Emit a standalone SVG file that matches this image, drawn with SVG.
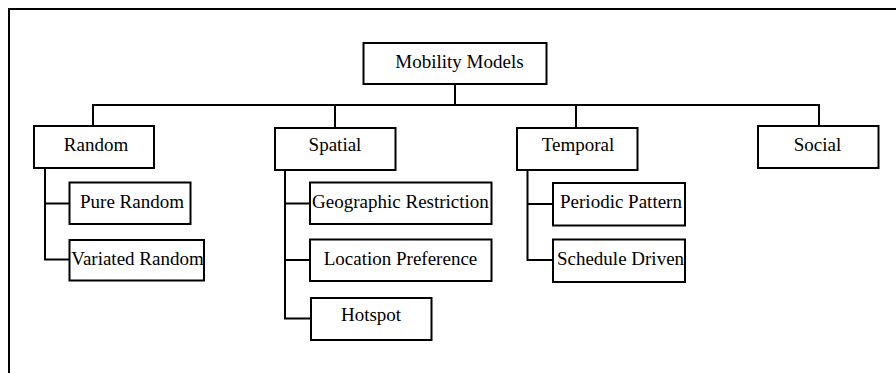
<svg xmlns="http://www.w3.org/2000/svg" width="896" height="373" viewBox="0 0 896 373">
<style>
.box{fill:#fff;stroke:#000;stroke-width:2}
.ln{fill:none;stroke:#000;stroke-width:2}
text{font-family:"Liberation Serif","Times New Roman",serif;font-size:19px;fill:#000;text-anchor:middle}
</style>
<rect width="896" height="373" fill="#fff"/>
<polyline class="ln" points="9,373 9,9 896,9"/>
<g id="connectors">
<polyline class="ln" points="455,84 455,105"/>
<polyline class="ln" points="93,126 93,105 819,105 819,126"/>
<polyline class="ln" points="335,105 335,128"/>
<polyline class="ln" points="576,105 576,128"/>
<polyline class="ln" points="45,168 45,259.5 69,259.5"/>
<polyline class="ln" points="45,203.5 69,203.5"/>
<polyline class="ln" points="285,170 285,318.5 311,318.5"/>
<polyline class="ln" points="285,203.5 310,203.5"/>
<polyline class="ln" points="285,260 310,260"/>
<polyline class="ln" points="527.5,170 527.5,260 553,260"/>
<polyline class="ln" points="527.5,204 553,204"/>
</g>
<g id="mobility-models"><rect class="box" x="363.5" y="43" width="183" height="41"/><text x="459.5" y="67.5">Mobility Models</text></g>
<g id="random"><rect class="box" x="34" y="126" width="120" height="42"/><text x="96" y="151">Random</text></g>
<g id="pure-random"><rect class="box" x="69.5" y="182.5" width="121" height="41.5"/><text x="132" y="208">Pure Random</text></g>
<g id="variated-random"><rect class="box" x="69.5" y="240" width="134.5" height="40.5"/><text x="137.5" y="264.5">Variated Random</text></g>
<g id="spatial"><rect class="box" x="275" y="128" width="120.5" height="42"/><text x="335" y="151">Spatial</text></g>
<g id="geographic-restriction"><rect class="box" x="310" y="182.5" width="181.5" height="41.5"/><text x="400.5" y="208">Geographic Restriction</text></g>
<g id="location-preference"><rect class="box" x="310" y="239.5" width="181.5" height="41.5"/><text x="400.5" y="264.5">Location Preference</text></g>
<g id="hotspot"><rect class="box" x="311" y="298" width="120.5" height="42"/><text x="371" y="321">Hotspot</text></g>
<g id="temporal"><rect class="box" x="517" y="128" width="120.5" height="42"/><text x="578" y="151">Temporal</text></g>
<g id="periodic-pattern"><rect class="box" x="553" y="183" width="132" height="42.5"/><text x="621" y="208">Periodic Pattern</text></g>
<g id="schedule-driven"><rect class="box" x="553" y="239.5" width="132" height="42.5"/><text x="620.5" y="264.5">Schedule Driven</text></g>
<g id="social"><rect class="box" x="758" y="126" width="120.5" height="42"/><text x="817.5" y="151">Social</text></g>
</svg>
